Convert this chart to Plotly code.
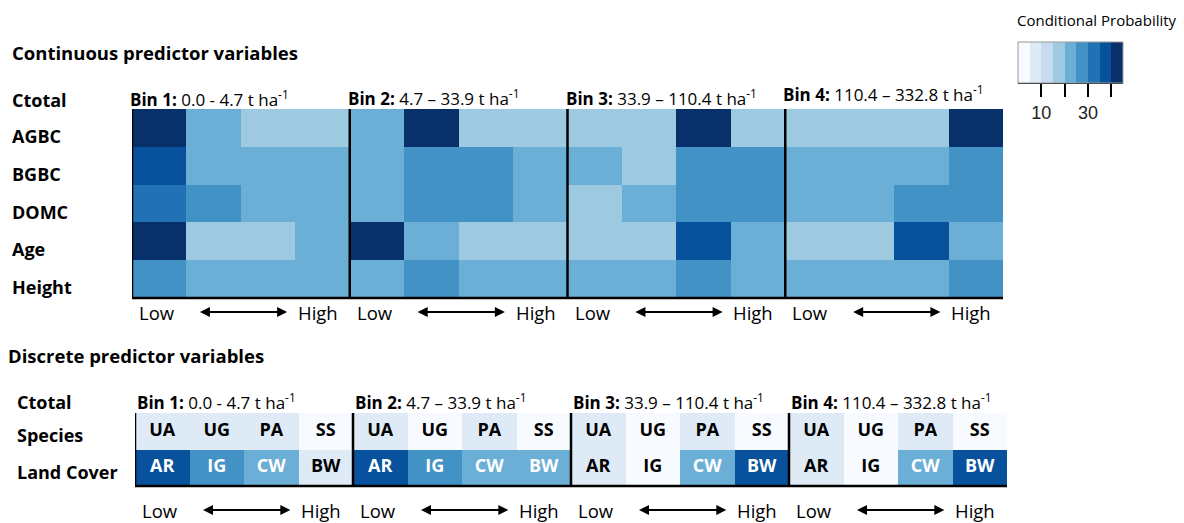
import plotly.graph_objects as go

W, H = 1184, 523
FONT = "Open Sans"

# ---------------- data ----------------
blues9 = ["#f7fbff", "#deebf7", "#c6dbef", "#9ecae1", "#6baed6",
          "#4292c6", "#2171b5", "#08519c", "#08306b"]

cont_rows = ["AGBC", "BGBC", "DOMC", "Age", "Height"]
bin_titles = [
    "<b>Bin 1:</b> 0.0 - 4.7 t ha<sup>-1</sup>",
    "<b>Bin 2:</b> 4.7 \u2013 33.9 t ha<sup>-1</sup>",
    "<b>Bin 3:</b> 33.9 \u2013 110.4 t ha<sup>-1</sup>",
    "<b>Bin 4:</b> 110.4 \u2013 332.8 t ha<sup>-1</sup>",
]
# conditional probability (%) for the 4 predictor classes (Low -> High) in each Ctotal bin
agbc = [44, 22, 17, 17, 22, 44, 17, 17, 18, 19, 44, 19, 18, 19, 19, 44]
bgbc = [37, 21, 21, 21, 22, 28, 28, 22, 23, 19, 29, 29, 24, 24, 24, 28]
domc = [31, 27, 21, 21, 22, 28, 28, 22, 19, 23, 29, 29, 22, 22, 28, 28]
age = [44, 18, 17, 21, 44, 22, 17, 17, 19, 19, 38, 24, 19, 19, 38, 24]
height = [28, 24, 24, 24, 24, 28, 24, 24, 24, 24, 28, 24, 24, 24, 24, 28]

disc_rows = ["Species", "Land Cover"]
species_labels = ["UA", "UG", "PA", "SS"]
landcover_labels = ["AR", "IG", "CW", "BW"]
species = [7, 7, 7, 3, 7, 3, 7, 3, 7, 3, 7, 3, 7, 3, 7, 3]
landcover = [37, 27, 22, 7, 37, 27, 22, 22, 7, 3, 22, 37, 7, 3, 22, 37]

cb_tickvals = [10, 20, 30, 40]
cb_ticktext = ["10", "", "30", ""]
ZMIN, ZMAX = 0, 45

# ---------------- helpers ----------------
def px(x):
    return x / W

def py(y):
    return 1 - y / H

scale = []
for i, c in enumerate(blues9):
    scale.append([i / 9, c])
    scale.append([(i + 1) / 9, c])

ncol = 16
cols = list(range(ncol))

fig = go.Figure()

# continuous heatmap
fig.add_trace(go.Heatmap(
    z=[agbc, bgbc, domc, age, height], x=cols, y=list(range(len(cont_rows))),
    colorscale=scale, zmin=ZMIN, zmax=ZMAX, hoverinfo="skip",
    xaxis="x", yaxis="y",
    colorbar=dict(
        orientation="h", x=px(1018), xanchor="left", y=py(42), yanchor="top",
        len=105, lenmode="pixels", thickness=41, thicknessmode="pixels",
        xpad=0, ypad=0, tickvals=cb_tickvals, ticktext=cb_ticktext,
        ticks="outside", ticklen=14, tickwidth=2, tickcolor="black",
        outlinewidth=1, outlinecolor="#9a9a9a",
        tickfont=dict(family="Liberation Sans", size=18, color="#222"),
    ),
))

# discrete heatmap
fig.add_trace(go.Heatmap(
    z=[species, landcover], x=cols, y=[0, 1],
    colorscale=scale, zmin=ZMIN, zmax=ZMAX, showscale=False, hoverinfo="skip",
    xaxis="x2", yaxis="y2",
))

# cell labels for discrete heatmap
txt, tx, ty, tc = [], [], [], []
for r, (vals, labs) in enumerate([(species, species_labels), (landcover, landcover_labels)]):
    for c in cols:
        txt.append(labs[c % 4])
        tx.append(c)
        ty.append(r)
        tc.append("white" if vals[c] >= 20 else "black")
fig.add_trace(go.Scatter(
    x=tx, y=ty, text=txt, mode="text", hoverinfo="skip", showlegend=False,
    textfont=dict(family=FONT, size=18, color=tc, weight="bold"),
    xaxis="x2", yaxis="y2",
))

ann = []
shapes = []

# headings
ann.append(dict(text="<b>Continuous predictor variables</b>", x=px(10), y=py(53),
                xref="paper", yref="paper", xanchor="left", yanchor="middle",
                showarrow=False, font=dict(size=18.5)))
ann.append(dict(text="<b>Discrete predictor variables</b>", x=px(6), y=py(355),
                xref="paper", yref="paper", xanchor="left", yanchor="middle",
                showarrow=False, font=dict(size=18.5)))
ann.append(dict(text="Conditional Probability", x=px(1097), y=py(20),
                xref="paper", yref="paper", xanchor="center", yanchor="middle",
                showarrow=False, font=dict(size=15)))

# Ctotal labels
ann.append(dict(text="<b>Ctotal</b>", x=px(10), y=py(100), xref="paper", yref="paper",
                xanchor="left", yanchor="middle", showarrow=False, font=dict(size=18)))
ann.append(dict(text="<b>Ctotal</b>", x=px(15), y=py(402), xref="paper", yref="paper",
                xanchor="left", yanchor="middle", showarrow=False, font=dict(size=18)))

# row labels
for i, name in enumerate(cont_rows):
    ann.append(dict(text=f"<b>{name}</b>", x=px(10), y=i, xref="paper", yref="y",
                    yshift=-8, xanchor="left", yanchor="middle", showarrow=False,
                    font=dict(size=18)))
for i, name in enumerate(disc_rows):
    ann.append(dict(text=f"<b>{name}</b>", x=px(15), y=i, xref="paper", yref="y2",
                    yshift=-4, xanchor="left", yanchor="middle", showarrow=False,
                    font=dict(size=18)))

# bin titles, Low/High, arrows, separators
title_y_top = [99, 97, 97, 94]
for b in range(4):
    left = b * 4 - 0.5
    right = b * 4 + 3.5
    for xr, yv, sh in [("x", py(title_y_top[b]), -4), ("x2", py(401), 0)]:
        ann.append(dict(text=bin_titles[b], x=left, y=yv, xref=xr, yref="paper",
                        xshift=sh, xanchor="left", yanchor="middle", showarrow=False,
                        font=dict(size=17)))
    for xr, yv in [("x", py(312)), ("x2", py(510))]:
        ann.append(dict(text="Low", x=left, y=yv, xref=xr, yref="paper", xshift=5,
                        xanchor="left", yanchor="middle", showarrow=False,
                        font=dict(size=18.5)))
        ann.append(dict(text="High", x=right, y=yv, xref=xr, yref="paper", xshift=-10,
                        xanchor="right", yanchor="middle", showarrow=False,
                        font=dict(size=18.5)))
        ann.append(dict(text="", x=b * 4 + 2.35, y=yv, xref=xr, yref="paper",
                        ax=b * 4 + 0.72, ay=0, axref=xr, ayref="pixel",
                        showarrow=True, arrowhead=2, arrowside="end+start",
                        arrowsize=1, arrowwidth=2, arrowcolor="black",
                        standoff=0, startstandoff=0))
    if b > 0:
        for xr, yr in [("x", "y domain"), ("x2", "y2 domain")]:
            shapes.append(dict(type="line", x0=left, x1=left, y0=0, y1=1, xref=xr, yref=yr,
                               line=dict(color="black", width=2.5)))

for xr, yr in [("x", "y domain"), ("x2", "y2 domain")]:
    shapes.append(dict(type="line", x0=-0.5, x1=-0.5, y0=0, y1=1, xref=xr, yref=yr,
                       line=dict(color="black", width=2.5)))
    shapes.append(dict(type="line", x0=-0.5, x1=15.5, y0=0, y1=0, xref=xr, yref=yr,
                       line=dict(color="black", width=2.5)))

# bottom edge of the colour bar
shapes.append(dict(type="line", x0=px(1018), x1=px(1123), y0=py(83), y1=py(83),
                   xref="paper", yref="paper", line=dict(color="black", width=2)))

fig.update_layout(
    width=W, height=H, autosize=False,
    margin=dict(l=0, r=0, t=0, b=0),
    paper_bgcolor="white", plot_bgcolor="white",
    font=dict(family=FONT, color="black"),
    showlegend=False,
    xaxis=dict(domain=[px(132), px(1003)], range=[-0.5, 15.5], visible=False, fixedrange=True),
    yaxis=dict(domain=[py(298), py(109)], range=[4.5, -0.5], visible=False, fixedrange=True),
    xaxis2=dict(domain=[px(135), px(1007)], range=[-0.5, 15.5], visible=False,
                anchor="y2", fixedrange=True),
    yaxis2=dict(domain=[py(486), py(413)], range=[1.5, -0.5], visible=False,
                anchor="x2", fixedrange=True),
    annotations=ann,
    shapes=shapes,
)

fig.write_html(
    "out.html",
    config={"displayModeBar": False},
    post_script="document.body.style.margin='0px';document.body.style.overflow='hidden';",
)
